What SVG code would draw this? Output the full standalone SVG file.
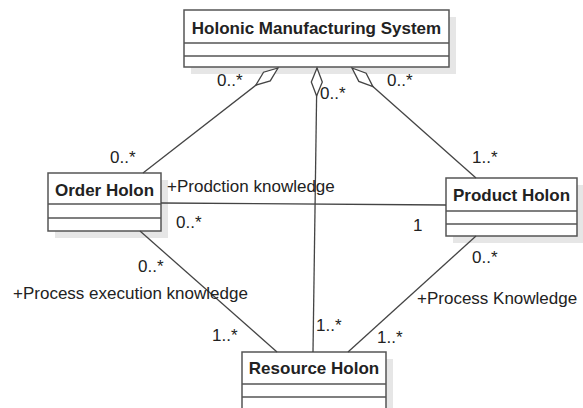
<svg xmlns="http://www.w3.org/2000/svg" width="583" height="408" viewBox="0 0 583 408">
<defs>
<style>
.shadow{fill:#e6e6e6;stroke:none}
.box{fill:#fff;stroke:#555;stroke-width:1.5}
.div{stroke:#555;stroke-width:1.5}
.title{font-family:"Liberation Sans",Arial,sans-serif;font-weight:bold;font-size:17px;fill:#222}
.lbl{font-family:"Liberation Sans",Arial,sans-serif;font-size:17px;fill:#222}
.conn{stroke:#444;stroke-width:1.3;fill:none}
.dia{fill:#fff;stroke:#444;stroke-width:1.3}
</style>
<polygon id="diamond" points="0,0 14,-5.5 28,0 14,5.5"/>
</defs>
<rect width="583" height="408" fill="#fff"/>
<g id="hms">
<rect class="shadow" x="191" y="17" width="265" height="57"/>
<rect class="box" x="184" y="10" width="265" height="57"/>
<line class="div" x1="184" y1="43" x2="449" y2="43"/>
<line class="div" x1="184" y1="56" x2="449" y2="56"/>
<text class="title" x="316.5" y="34" text-anchor="middle">Holonic Manufacturing System</text>
</g>
<g id="order">
<rect class="shadow" x="55" y="180" width="113" height="58"/>
<rect class="box" x="48" y="173" width="113" height="58"/>
<line class="div" x1="48" y1="204" x2="161" y2="204"/>
<line class="div" x1="48" y1="218" x2="161" y2="218"/>
<text class="title" x="104.5" y="196" text-anchor="middle">Order Holon</text>
</g>
<g id="product">
<rect class="shadow" x="453" y="185" width="131" height="58"/>
<rect class="box" x="446" y="178" width="131" height="58"/>
<line class="div" x1="446" y1="211" x2="577" y2="211"/>
<line class="div" x1="446" y1="224" x2="577" y2="224"/>
<text class="title" x="511.5" y="201" text-anchor="middle">Product Holon</text>
</g>
<g id="resource">
<rect class="shadow" x="249" y="359" width="144" height="60"/>
<rect class="box" x="242" y="352" width="144" height="60"/>
<line class="div" x1="242" y1="384" x2="386" y2="384"/>
<line class="div" x1="242" y1="397" x2="386" y2="397"/>
<text class="title" x="314" y="374" text-anchor="middle">Resource Holon</text>
</g>
<g id="connectors">
<line class="conn" x1="278" y1="68" x2="143" y2="173"/>
<line class="conn" x1="317" y1="68" x2="313" y2="352"/>
<line class="conn" x1="352" y1="68" x2="476" y2="178"/>
<line class="conn" x1="161" y1="203" x2="446" y2="205"/>
<line class="conn" x1="140" y1="231" x2="277" y2="352"/>
<line class="conn" x1="476" y1="236" x2="348" y2="352"/>
<use href="#diamond" class="dia" transform="translate(278,68) rotate(142.4)"/>
<use href="#diamond" class="dia" transform="translate(317,68) rotate(90.8)"/>
<use href="#diamond" class="dia" transform="translate(352,68) rotate(41.6)"/>
<text class="lbl" x="217" y="86">0..*</text>
<text class="lbl" x="320" y="99">0..*</text>
<text class="lbl" x="387" y="86">0..*</text>
<text class="lbl" x="110" y="163">0..*</text>
<text class="lbl" x="472" y="163">1..*</text>
<text class="lbl" x="167" y="192">+Prodction knowledge</text>
<text class="lbl" x="176" y="228">0..*</text>
<text class="lbl" x="413" y="231">1</text>
<text class="lbl" x="138" y="272">0..*</text>
<text class="lbl" x="13" y="299">+Process execution knowledge</text>
<text class="lbl" x="212" y="341">1..*</text>
<text class="lbl" x="472" y="263">0..*</text>
<text class="lbl" x="417" y="304">+Process Knowledge</text>
<text class="lbl" x="316" y="331">1..*</text>
<text class="lbl" x="377" y="343">1..*</text>
</g>
</svg>
